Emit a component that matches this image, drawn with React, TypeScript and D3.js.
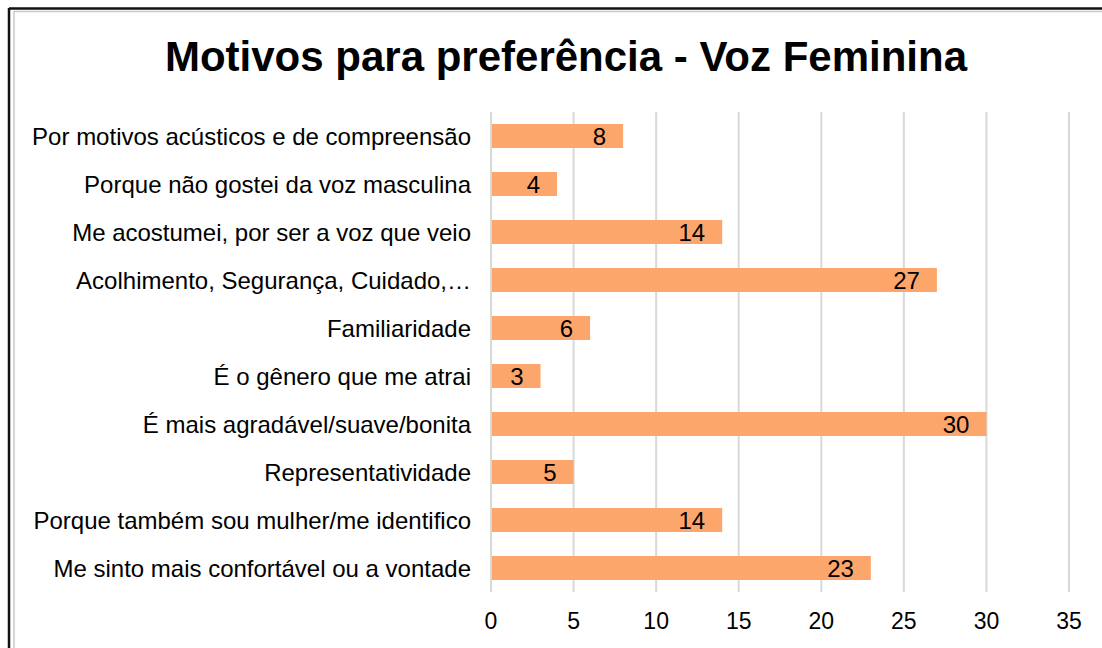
import React, { useEffect, useRef } from "react";
import * as d3 from "d3";

const categories = [
  "Por motivos acústicos e de compreensão",
  "Porque não gostei da voz masculina",
  "Me acostumei, por ser a voz que veio",
  "Acolhimento, Segurança, Cuidado,…",
  "Familiaridade",
  "É o gênero que me atrai",
  "É mais agradável/suave/bonita",
  "Representatividade",
  "Porque também sou mulher/me identifico",
  "Me sinto mais confortável ou a vontade",
];
const values = [8, 4, 14, 27, 6, 3, 30, 5, 14, 23];
const xTicks = [0, 5, 10, 15, 20, 25, 30, 35];
const title = "Motivos para preferência - Voz Feminina";

const App: React.FC = () => {
  const svgRef = useRef<SVGSVGElement | null>(null);
  const width = 1102;
  const height = 648;

  useEffect(() => {
    const svg = d3.select(svgRef.current);
    svg.selectAll("*").remove();
    svg.attr("width", width).attr("height", height);

    const font = "'Liberation Sans', Arial, sans-serif";

    svg.append("rect").attr("width", width).attr("height", height).attr("fill", "#fff");

    // frame
    svg.append("line").attr("x1", 9).attr("x2", width).attr("y1", 8.5).attr("y2", 8.5)
      .attr("stroke", "#111").attr("stroke-width", 2.5);
    svg.append("line").attr("x1", 14).attr("x2", width).attr("y1", 11.5).attr("y2", 11.5)
      .attr("stroke", "#c8c8c8").attr("stroke-width", 1.5);
    svg.append("line").attr("x1", 9).attr("x2", 9).attr("y1", 8).attr("y2", height)
      .attr("stroke", "#111").attr("stroke-width", 2.5);
    svg.append("line").attr("x1", 14).attr("x2", 14).attr("y1", 11).attr("y2", height)
      .attr("stroke", "#c8c8c8").attr("stroke-width", 1.5);

    const x = d3.scaleLinear().domain([0, 35]).range([491, 1069]);
    const y = d3.scaleBand<string>().domain(categories).range([112, 592])
      .paddingInner(0.5).paddingOuter(0.25);

    svg.append("text")
      .attr("x", 566).attr("y", 71)
      .attr("text-anchor", "middle")
      .attr("font-family", font).attr("font-weight", "bold").attr("font-size", 42)
      .attr("fill", "#000")
      .text(title);

    // grid
    svg.append("g").selectAll("line").data(xTicks).enter().append("line")
      .attr("x1", d => x(d)).attr("x2", d => x(d))
      .attr("y1", 112).attr("y2", 592)
      .attr("stroke", "#d9d9d9").attr("stroke-width", 2);

    // tick labels
    svg.append("g").selectAll("text").data(xTicks).enter().append("text")
      .attr("x", d => x(d)).attr("y", 629)
      .attr("text-anchor", "middle")
      .attr("font-family", font).attr("font-size", 23).attr("fill", "#000")
      .text(d => d);

    // bars
    svg.append("g").selectAll("rect").data(values).enter().append("rect")
      .attr("x", x(0) + 1)
      .attr("y", (d, i) => y(categories[i]) as number)
      .attr("width", d => x(d) - x(0) - 1)
      .attr("height", y.bandwidth())
      .attr("fill", "#fda66b");

    // value labels
    svg.append("g").selectAll("text").data(values).enter().append("text")
      .attr("x", d => x(d) - 17)
      .attr("y", (d, i) => (y(categories[i]) as number) + y.bandwidth() / 2 + 8.5)
      .attr("text-anchor", "end")
      .attr("font-family", font).attr("font-size", 24).attr("fill", "#000")
      .text(d => d);

    // category labels
    svg.append("g").selectAll("text").data(categories).enter().append("text")
      .attr("x", 471)
      .attr("y", d => (y(d) as number) + y.bandwidth() / 2 + 8.5)
      .attr("text-anchor", "end")
      .attr("font-family", font).attr("font-size", 24).attr("fill", "#000")
      .text(d => d);
  }, []);

  return (
    <svg ref={svgRef} style={{ position: "absolute", left: 0, top: 0 }}></svg>
  );
};

export default App;
